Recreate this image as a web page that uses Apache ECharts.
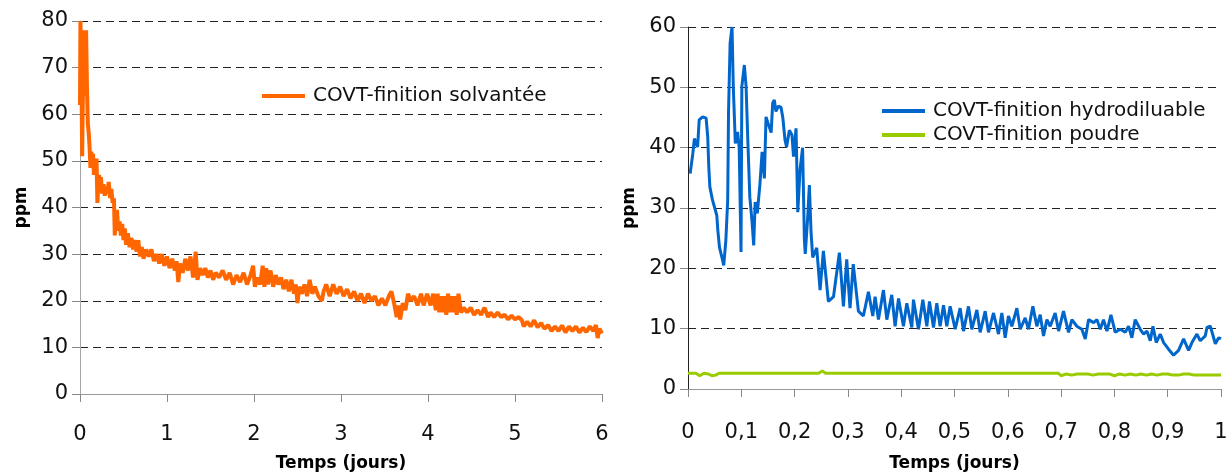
<!DOCTYPE html>
<html>
<head>
<meta charset="utf-8">
<script src="https://cdn.jsdelivr.net/npm/echarts@6/dist/echarts.min.js"></script>
<style>
html,body{margin:0;padding:0;background:#fff;}
#chart{width:1230px;height:474px;}
</style>
</head>
<body>
<div id="chart"></div>
<script>
// ---- Data ----
const seriesNames = ['COVT-finition solvantée', 'COVT-finition hydrodiluable', 'COVT-finition poudre'];
const axisTitleX = 'Temps (jours)';
const axisTitleY = 'ppm';

// Left chart: solvent-based finish, [days, ppm]
const solvantee = [
[0.000,62],[0.005,80],[0.012,74],[0.018,66],[0.025,51],[0.030,60],[0.040,72],[0.050,78],[0.060,64],[0.070,78],
[0.080,66],[0.090,58],[0.100,56],[0.110,53],[0.120,48.5],[0.130,52],[0.140,49],[0.150,51.5],[0.160,47],[0.170,50],
[0.180,48],[0.190,50.5],[0.200,41],[0.210,45],[0.220,47],[0.230,44],[0.240,46.5],[0.255,43],[0.270,45],[0.285,42.5],
[0.300,44.5],[0.315,43],[0.330,45.5],[0.345,42],[0.360,44],[0.375,41],[0.390,42],[0.400,34],[0.410,38],[0.425,39.5],
[0.440,35],[0.455,37],[0.470,34],[0.485,36.5],[0.500,33],[0.515,35.5],[0.530,32],[0.550,34.5],[0.570,31.5],[0.590,33.5],
[0.610,31],[0.630,33],[0.650,30.5],[0.670,33],[0.690,29.5],[0.710,31.5],[0.730,29],[0.760,31],[0.790,29.5],[0.820,31],
[0.850,28.5],[0.880,30],[0.910,28],[0.940,30],[0.970,27.5],[1.000,29.5],[1.030,27],[1.060,29],[1.090,26.5],[1.110,28.5],
[1.130,24],[1.150,28],[1.180,26],[1.210,29],[1.240,26.5],[1.270,29.5],[1.300,25],[1.330,30.5],[1.350,24.5],[1.380,27],
[1.410,25.5],[1.440,27],[1.470,25],[1.500,26.5],[1.530,24.5],[1.560,26],[1.600,25],[1.640,26.5],[1.680,24.5],[1.720,26],
[1.760,23.5],[1.800,25.5],[1.840,24],[1.880,26],[1.920,23.5],[1.960,25.5],[1.990,27.5],[2.010,23],[2.040,25],[2.070,23.5],
[2.100,27.5],[2.120,23],[2.140,27],[2.160,23.5],[2.190,26.5],[2.220,23],[2.250,25.5],[2.280,23.5],[2.310,25],[2.340,22.5],
[2.370,24.5],[2.400,22],[2.430,24.5],[2.460,21.5],[2.480,23.5],[2.500,19.5],[2.520,23],[2.550,21.5],[2.580,23.5],[2.610,21],
[2.640,24.5],[2.670,21.5],[2.700,23],[2.740,21],[2.780,20],[2.800,22],[2.830,23.5],[2.870,21],[2.910,23.5],[2.950,21.5],
[2.990,23],[3.030,21],[3.070,22.5],[3.110,20.5],[3.150,22],[3.190,20],[3.230,21.5],[3.270,19.5],[3.310,21.5],[3.350,20],
[3.390,21],[3.430,19],[3.470,20.5],[3.510,19],[3.550,21],[3.580,22],[3.610,19.5],[3.640,16.5],[3.660,19],[3.680,16],
[3.710,19.5],[3.740,18],[3.770,21.5],[3.800,20],[3.840,21],[3.880,19],[3.920,21.5],[3.950,19],[3.990,21.5],[4.030,19],
[4.060,21.5],[4.090,18],[4.110,21.5],[4.130,17.5],[4.150,21],[4.170,17.5],[4.190,21],[4.210,17],[4.230,21.5],[4.250,17.5],
[4.270,21],[4.290,17.5],[4.310,21],[4.330,17],[4.350,21.5],[4.380,17.5],[4.410,18.5],[4.450,17.5],[4.490,18.5],[4.530,17],
[4.570,18],[4.610,17],[4.650,18.5],[4.690,16.5],[4.720,17.5],[4.760,16.5],[4.800,17.5],[4.840,16.5],[4.880,17],[4.920,16],
[4.960,16.8],[5.000,16],[5.040,16.5],[5.080,15.8],[5.100,14.5],[5.140,15.5],[5.180,14.5],[5.220,15.8],[5.260,14.3],[5.300,15.2],
[5.340,14],[5.380,14.8],[5.420,13.5],[5.460,14.5],[5.500,13.5],[5.540,14.7],[5.580,13.2],[5.620,14.5],[5.660,13.5],[5.700,14.5],
[5.740,13.2],[5.780,14.2],[5.820,13.3],[5.860,14.5],[5.900,13.5],[5.930,14.8],[5.950,12],[5.970,14],[6.000,13]
];

// Right chart: water-based finish, [days, ppm]
const hydrodiluable = [
[0.004,35.7],[0.009,39],[0.012,41.5],[0.018,40.1],[0.021,44.6],[0.0275,45.1],[0.034,44.9],[0.037,41.8],[0.039,36.8],[0.041,33.5],
[0.046,31.3],[0.054,28.8],[0.056,26.3],[0.059,23.5],[0.065,21.3],[0.067,20.5],[0.071,24.6],[0.0745,31.3],[0.076,45.7],[0.079,57.3],
[0.0826,60],[0.085,50.1],[0.0888,40.7],[0.093,42.6],[0.096,40.1],[0.0995,22.7],[0.101,50.1],[0.1057,53.7],[0.109,50.1],[0.112,41.8],
[0.116,31.8],[0.120,27.9],[0.1233,23.8],[0.126,31],[0.130,29.1],[0.135,34],[0.139,39.3],[0.1433,34.9],[0.1464,45.1],[0.1514,43.7],
[0.156,42.5],[0.1589,47.4],[0.162,47.9],[0.165,46],[0.1696,46.9],[0.1745,46.7],[0.178,44.9],[0.182,41.3],[0.185,40.1],[0.1902,42.9],
[0.195,42.1],[0.198,38.5],[0.2027,43.2],[0.206,29.3],[0.2102,36.3],[0.215,40],[0.2184,24.6],[0.2200,22.4],[0.2246,28.5],[0.2277,33.8],
[0.231,25.7],[0.234,21.8],[0.237,22.4],[0.2415,23.4],[0.2478,16.4],[0.254,22.9],[0.2634,14.5],[0.273,15.3],[0.284,22.6],[0.2916,13.7],
[0.2978,21.5],[0.304,13.4],[0.310,20.7],[0.3197,12.9],[0.329,12.1],[0.3385,16.1],[0.3417,16.4],[0.3467,12.1],[0.351,15.3],[0.3573,11.5],
[0.3667,16.4],[0.373,11.5],[0.3823,15.6],[0.3886,10.4],[0.395,15],[0.4042,10.4],[0.4105,14.2],[0.4199,10.2],[0.423,14.8],[0.4324,9.9],
[0.4406,14.8],[0.4481,10.4],[0.4530,14.5],[0.4606,10.2],[0.4668,14.2],[0.473,10.4],[0.4794,13.9],[0.4856,10.4],[0.4918,13.7],[0.5013,9.9],
[0.5106,13.4],[0.5169,9.6],[0.5263,13.7],[0.5325,9.9],[0.542,13.1],[0.5481,9.4],[0.5576,12.9],[0.5638,9.4],[0.5732,12.6],[0.5825,9.1],
[0.5888,12.6],[0.5951,8.5],[0.6013,12.1],[0.6076,10.4],[0.617,13.4],[0.6233,9.9],[0.6326,11.8],[0.6388,9.9],[0.6470,13.7],[0.6545,10.4],
[0.6608,12.3],[0.667,8.8],[0.6733,11.5],[0.6795,10.4],[0.6889,12.6],[0.6953,9.6],[0.7045,12.9],[0.714,9.4],[0.7202,11.5],[0.7296,10.4],
[0.739,9.9],[0.7453,8.3],[0.7516,11.5],[0.761,11],[0.7673,11.5],[0.7735,9.9],[0.7796,11.5],[0.786,9.6],[0.7935,12.3],[0.8016,9.4],
[0.8109,9.9],[0.8203,9.4],[0.8266,10.4],[0.8328,8.5],[0.839,11.5],[0.8485,9.9],[0.8548,9.1],[0.861,9.6],[0.8673,8],[0.8723,10.4],
[0.8785,7.7],[0.886,9.1],[0.8923,7.7],[0.9016,6.6],[0.911,5.6],[0.9204,6.4],[0.9298,8.3],[0.9392,6.4],[0.9455,7.7],[0.9548,9.1],
[0.9611,8],[0.9705,8.8],[0.9737,10.2],[0.980,10.4],[0.9894,7.5],[0.9956,8.5],[1.000,8.3]
];

// Right chart: powder finish, [days, ppm]
const poudre = [
[0,2.6],[0.015,2.6],[0.022,2.2],[0.030,2.6],[0.038,2.5],[0.045,2.2],[0.052,2.3],[0.058,2.6],[0.100,2.6],[0.200,2.6],
[0.245,2.6],[0.252,3.0],[0.258,2.6],[0.400,2.6],[0.600,2.6],[0.695,2.6],[0.700,2.2],[0.710,2.5],[0.720,2.3],[0.730,2.5],
[0.750,2.5],[0.760,2.3],[0.770,2.5],[0.790,2.5],[0.800,2.2],[0.810,2.5],[0.820,2.3],[0.830,2.5],[0.840,2.3],[0.850,2.5],
[0.860,2.3],[0.870,2.5],[0.880,2.3],[0.890,2.5],[0.900,2.5],[0.910,2.3],[0.920,2.3],[0.930,2.5],[0.940,2.5],[0.950,2.3],
[0.960,2.3],[0.970,2.3],[1.000,2.3]
];

// ---- Chart ----
const FONT = 'DejaVu Sans';
const chart = echarts.init(document.getElementById('chart'), null, {renderer: 'canvas'});

function yAxisCfg(gridIndex, max, lineColor) {
  return {
    type: 'value', gridIndex, min: 0, max, interval: 10,
    name: axisTitleY, nameLocation: 'middle', nameGap: 50, nameRotate: 90, nameMoveOverlap: false,
    nameTextStyle: {fontFamily: FONT, fontSize: 17, fontWeight: 'bold', color: '#000'},
    axisLine: {show: true, lineStyle: {color: lineColor, width: 1}},
    axisTick: {show: true, length: 8, lineStyle: {color: '#888'}},
    axisLabel: {fontFamily: FONT, fontSize: 21, color: '#111', margin: 12},
    splitLine: {show: true, lineStyle: {color: '#222', type: [8, 5], width: 1}}
  };
}
// main x axis: line, ticks and title (no tick labels)
function xAxisMain(gridIndex, max, interval, nameGap) {
  return {
    type: 'value', gridIndex, min: 0, max, interval,
    name: axisTitleX, nameLocation: 'middle', nameGap, nameMoveOverlap: false,
    nameTextStyle: {fontFamily: FONT, fontSize: 17, fontWeight: 'bold', color: '#000', verticalAlign: 'middle'},
    axisLine: {show: true, onZero: false, lineStyle: {color: '#999', width: 1}},
    axisTick: {show: true, length: 8, lineStyle: {color: '#888'}},
    axisLabel: {show: false},
    splitLine: {show: false}
  };
}
// companion x axis on the same grid, carrying only the tick labels
function xAxisLabels(gridIndex, max, interval, fmt, margin) {
  return {
    type: 'value', gridIndex, min: 0, max, interval, position: 'bottom', offset: 0,
    axisLine: {show: false, onZero: false},
    axisTick: {show: false},
    axisLabel: {fontFamily: FONT, fontSize: 21, color: '#111', margin, formatter: fmt, verticalAlign: 'middle'},
    splitLine: {show: false}
  };
}

const bigBounds = {left: -300, top: -300, right: -300, bottom: -300};
const fmtLeft = v => String(v);
const fmtRight = v => String(Math.round(v * 10) / 10).replace('.', ',');

chart.setOption({
  animation: false,
  backgroundColor: '#fff',
  grid: [
    {left: 80, top: 21, width: 522, height: 373, containLabel: false, outerBounds: bigBounds},
    {left: 688, top: 27, width: 533, height: 362, containLabel: false, outerBounds: bigBounds}
  ],
  xAxis: [
    xAxisMain(0, 6, 1, 70),
    xAxisLabels(0, 6, 1, fmtLeft, 41),
    xAxisMain(1, 1, 0.1, 75),
    xAxisLabels(1, 1, 0.1, fmtRight, 44)
  ],
  yAxis: [
    yAxisCfg(0, 80, '#a6a6a6'),
    yAxisCfg(1, 60, '#222')
  ],
  legend: [
    {
      data: [seriesNames[0]], left: 257, top: 81, orient: 'vertical',
      icon: 'rect', itemWidth: 43, itemHeight: 4, itemGap: 8,
      textStyle: {fontFamily: FONT, fontSize: 20, color: '#111', padding: [0, 0, 0, 3]}
    },
    {
      data: [seriesNames[1], seriesNames[2]], left: 877, top: 95, orient: 'vertical',
      icon: 'rect', itemWidth: 43, itemHeight: 4, itemGap: 2,
      textStyle: {fontFamily: FONT, fontSize: 20, color: '#111', padding: [0, 0, 0, 3], lineHeight: 22}
    }
  ],
  series: [
    {name: seriesNames[0], type: 'line', xAxisIndex: 0, yAxisIndex: 0, data: solvantee,
     showSymbol: false, lineStyle: {color: '#ff6600', width: 4}, itemStyle: {color: '#ff6600'}},
    {name: seriesNames[1], type: 'line', xAxisIndex: 2, yAxisIndex: 1, data: hydrodiluable,
     showSymbol: false, lineStyle: {color: '#0066cc', width: 3}, itemStyle: {color: '#0066cc'}},
    {name: seriesNames[2], type: 'line', xAxisIndex: 2, yAxisIndex: 1, data: poudre,
     showSymbol: false, lineStyle: {color: '#99cc00', width: 3}, itemStyle: {color: '#99cc00'}}
  ]
});
</script>
</body>
</html>
